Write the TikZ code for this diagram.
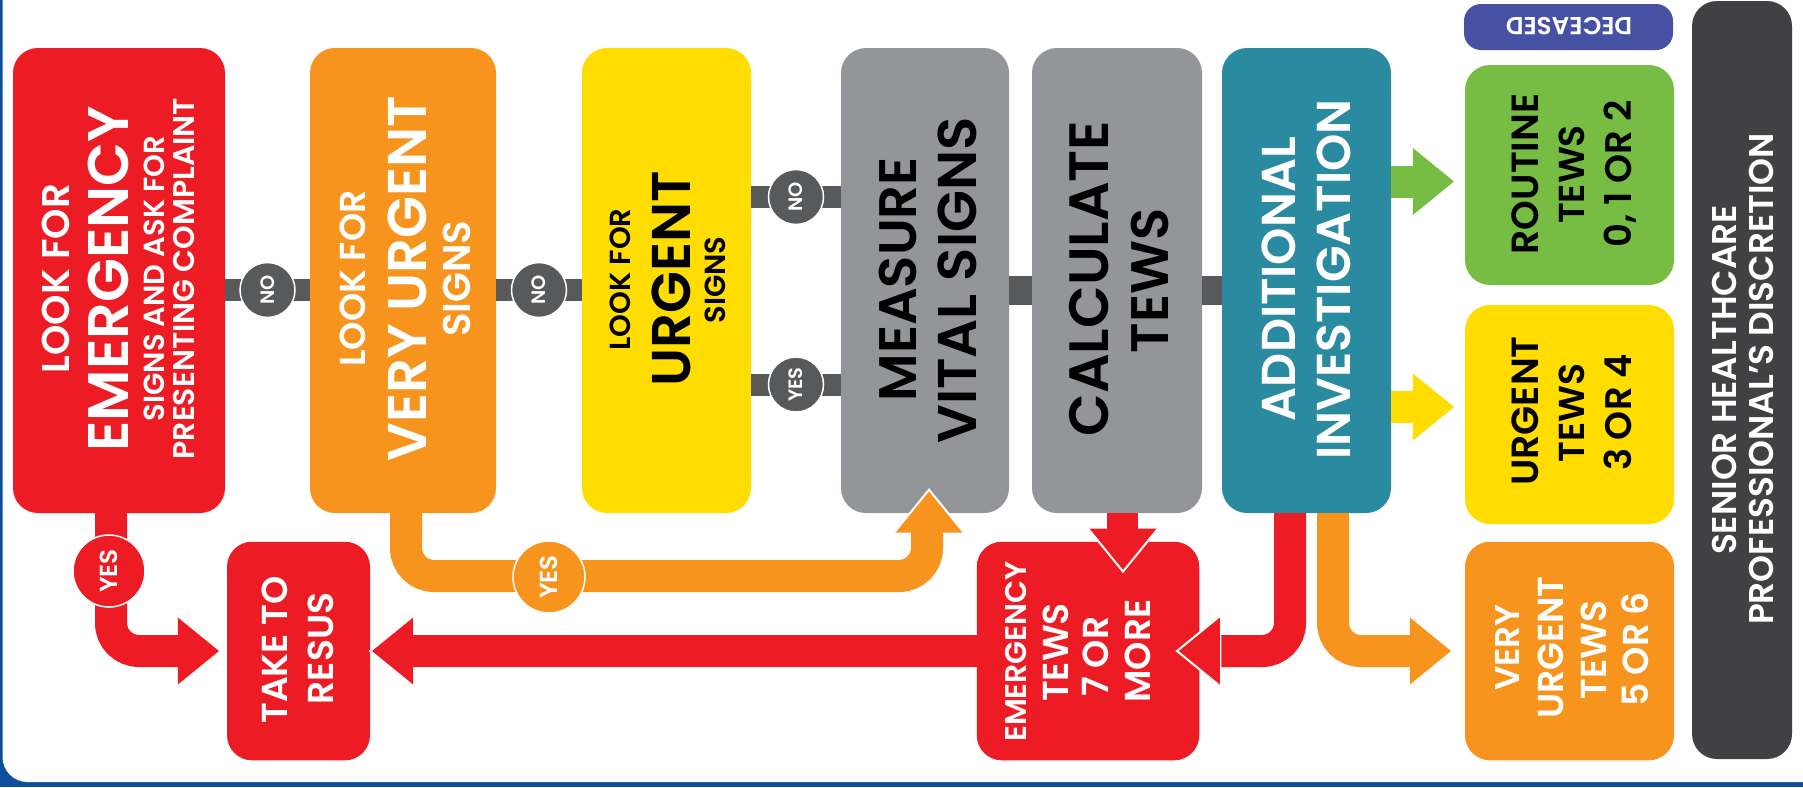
\documentclass[tikz,border=0pt]{standalone}
\usepackage{fontspec}
\setmainfont{Poppins}[BoldFont={Poppins SemiBold}]
\usetikzlibrary{calc}
\definecolor{cred}{HTML}{ED1C24}
\definecolor{corange}{HTML}{F7941D}
\definecolor{cyellow}{HTML}{FFDD00}
\definecolor{cboxgrey}{HTML}{939598}
\definecolor{cgrey}{HTML}{58595B}
\definecolor{cteal}{HTML}{2A8A9F}
\definecolor{cgreen}{HTML}{77BC43}
\definecolor{cdeceased}{HTML}{4751A3}
\definecolor{csenior}{HTML}{414042}
\definecolor{cframe}{HTML}{0D4F9C}
\newcommand\fz[1]{\fontsize{\fpeval{#1*0.88}pt}{\fpeval{#1*0.88}pt}\selectfont\bfseries}
\newcommand\ahead[3]{\path[shift={(#2)}, rotate=#3, fill=#1, draw=white, line width=2pt, line join=miter] (-43,35) -- (0,0) -- (-43,-35);}
\tikzset{
  box/.style={rectangle, rounded corners=25pt, inner sep=0pt, draw=none},
  lbl/.style={rotate=90, anchor=base, inner sep=0pt},
  circ/.style={circle, inner sep=0pt, minimum size=55pt, fill=cgrey, draw=white, line width=1.5pt, text=white, rotate=90, font=\fz{22}},
  bigcirc/.style={circ, minimum size=72pt, font=\fz{28}},
  bar/.style={draw=cgrey, line width=22pt},
  bar2/.style={draw=cgrey, line width=29pt},
  shaft/.style={line width=32pt, rounded corners=28pt},
}
\begin{document}
\begin{tikzpicture}[x=1pt,y=-1pt]
\useasboundingbox (0,0) rectangle (1803,787);
\clip (0,0) rectangle (1803,787);
\fill[cframe] (0,0) rectangle (1803,787);
\fill[white, rounded corners=25pt] (2.5,-60) rectangle (1880,782);

% boxes
\node[box, fill=cred, minimum width=212pt, minimum height=465pt] (emerg) at (119,280.5) {};
\node[box, fill=corange, minimum width=186pt, minimum height=465pt] (vurg) at (403,280.5) {};
\node[box, fill=cyellow, minimum width=169pt, minimum height=465pt] (urg) at (666.5,280.5) {};
\node[box, fill=cboxgrey, minimum width=168pt, minimum height=465pt] (meas) at (925,280.5) {};
\node[box, fill=cboxgrey, minimum width=170pt, minimum height=465pt] (calc) at (1117,280.5) {};
\node[box, fill=cteal, minimum width=169pt, minimum height=465pt] (addi) at (1306.5,280.5) {};
\node[box, fill=cdeceased, rounded corners=17pt, minimum width=209pt, minimum height=46pt] (dec) at (1568.5,27) {};
\node[box, fill=cgreen, minimum width=209pt, minimum height=220pt] (rout) at (1569.5,175) {};
\node[box, fill=cyellow, minimum width=209pt, minimum height=219pt] (urg2) at (1569.5,414.5) {};
\node[box, fill=corange, minimum width=209pt, minimum height=218.5pt] (vurg2) at (1569.5,651) {};
\node[box, fill=csenior, minimum width=100pt, minimum height=758pt] (senior) at (1742,380) {};
\node[box, fill=cred, minimum width=143pt, minimum height=218.5pt] (resus) at (298.5,651) {};
\node[box, fill=cred, minimum width=222.5pt, minimum height=218.5pt] (emtews) at (1088,651) {};

% grey connectors with circles
\coordinate (c1) at (267.5,290);
\coordinate (c2) at (539,290);
\coordinate (c3) at (796,197);
\coordinate (c4) at (796,384.5);
\draw[bar] (emerg.east |- c1) -- (vurg.west |- c1);
\draw[bar] (vurg.east |- c2) -- (urg.west |- c2);
\draw[bar] (urg.east |- c3) -- (meas.west |- c3);
\draw[bar] (urg.east |- c4) -- (meas.west |- c4);
\draw[bar2] (meas.east |- c1) -- (calc.west |- c1);
\draw[bar2] (calc.east |- c1) -- (addi.west |- c1);
\node[circ] (no1) at (c1) {NO};
\node[circ] (no2) at (c2) {NO};
\node[circ] (no3) at (c3) {NO};
\node[circ] (yes3) at (c4) {YES};

% red YES: emergency -> resus
\coordinate (rA) at ($(emerg.south)+(-8,0)$);
\coordinate (rBase) at ($(resus.west)+(-49,0)$);
\coordinate (rTip) at ($(resus.west)+(-6,0)$);
\draw[shaft, cred] (rA) |- (rBase);
\ahead{cred}{rTip}{0}
\node[bigcirc, fill=cred] (yes1) at (109,571) {YES};

% orange YES: very urgent -> measure
\coordinate (oA) at ($(vurg.south)+(3,0)$);
\coordinate (oC) at (927,576);
\coordinate (oBase) at ($(meas.south)+(2,19)$);
\coordinate (oTip) at ($(meas.south)+(4,-23.5)$);
\draw[shaft, corange] (oA) |- (oC) -- (oBase);
\ahead{corange}{oTip}{90}
\node[bigcirc, fill=corange] (yes2) at (549,577) {YES};

% calculate -> emergency tews
\coordinate (cA) at ($(calc.south)+(5,0)$);
\coordinate (cBase) at ($(calc.south)+(5,18)$);
\coordinate (cTip) at ($(emtews.north)+(35,30)$);
\draw[line width=31pt, cred] (cA) -- (cBase);
\ahead{cred}{cTip}{-90}

% emergency tews -> resus
\coordinate (lBase) at ($(resus.east)+(42,0)$);
\draw[line width=32pt, cred] (emtews.west) -- ($(lBase)+(-1,0)$);
\ahead{cred}{resus.east}{180}

% additional -> emergency tews
\coordinate (aA) at ($(addi.south)+(-16.5,0)$);
\coordinate (aBase) at ($(emtews.east)+(23,0)$);
\coordinate (aTip) at ($(emtews.east)+(-22.5,0)$);
\draw[shaft, cred] (aA) |- ($(aBase)+(-1,0)$);
\ahead{cred}{aTip}{180}

% additional -> very urgent
\coordinate (bA) at ($(addi.south)+(26.5,0)$);
\coordinate (bBase) at ($(vurg2.west)+(-54,0)$);
\coordinate (bTip) at ($(vurg2.west)+(-12,0)$);
\draw[shaft, corange] (bA) |- ($(bBase)+(1,0)$);
\ahead{corange}{bTip}{0}

% additional -> routine
\coordinate (gA) at ($(addi.east)+(0,-99)$);
\coordinate (gTip) at ($(rout.west)+(-9,6.5)$);
\draw[line width=32pt, cgreen] (gA) -- ($(gTip)+(-42,0)$);
\ahead{cgreen}{gTip}{0}

% additional -> urgent
\coordinate (yA) at ($(addi.east)+(0,126.5)$);
\coordinate (yTip) at ($(urg2.west)+(-9,-7.5)$);
\draw[line width=32pt, cyellow] (yA) -- ($(yTip)+(-42,0)$);
\ahead{cyellow}{yTip}{0}

% texts
\node[lbl, text=white, font=\fz{44}] (e1) at (69,278.6) {LOOK FOR};
\node[lbl, text=white, font=\fz{65}] (e2) at (128,278.6) {EMERGENCY};
\node[lbl, text=white, font=\fz{33}] (e3) at (164.6,278.6) {SIGNS AND ASK FOR};
\node[lbl, text=white, font=\fz{34}] (e4) at (194,278.6) {PRESENTING COMPLAINT};

\node[lbl, text=white, font=\fz{41}] (v1) at (365.5,278.6) {LOOK FOR};
\node[lbl, text=white, font=\fz{62}] (v2) at (426,278.6) {VERY URGENT};
\node[lbl, text=white, font=\fz{44}] (v3) at (470,278.6) {SIGNS};

\node[lbl, text=black, font=\fz{33}] (u1) at (630.5,279.5) {LOOK FOR};
\node[lbl, text=black, font=\fz{62}] (u2) at (690,278.5) {URGENT};
\node[lbl, text=black, font=\fz{33}] (u3) at (725,280) {SIGNS};

\node[lbl, text=black, font=\fz{60}] (m1) at (916.7,279.3) {MEASURE};
\node[lbl, text=black, font=\fz{62}] (m2) at (976.5,280.6) {VITAL SIGNS};

\node[lbl, text=black, font=\fz{63}] (ct1) at (1108,278.5) {CALCULATE};
\node[lbl, text=black, font=\fz{60}] (ct2) at (1168,281) {TEWS};

\node[lbl, text=white, font=\fz{54}] (a1) at (1295,279) {ADDITIONAL};
\node[lbl, text=white, font=\fz{54}] (a2) at (1350,279.5) {INVESTIGATION};

\node[lbl, text=black, font=\fz{43}] (r1) at (1538.5,174) {ROUTINE};
\node[lbl, text=black, font=\fz{41}] (r2) at (1584.6,174.5) {TEWS};
\node[lbl, text=black, font=\fz{42}] (r3) at (1631.5,174) {0, 1 OR 2};

\node[lbl, text=black, font=\fz{43}] (g1) at (1538.5,411) {URGENT};
\node[lbl, text=black, font=\fz{41}] (g2) at (1584.6,413) {TEWS};
\node[lbl, text=black, font=\fz{42}] (g3) at (1631.5,412.5) {3 OR 4};

\node[lbl, text=white, font=\fz{39}] (w1) at (1519,647.5) {VERY};
\node[lbl, text=white, font=\fz{41}] (w2) at (1563.5,647.5) {URGENT};
\node[lbl, text=white, font=\fz{41}] (w3) at (1606,650) {TEWS};
\node[lbl, text=white, font=\fz{41}] (w4) at (1648,649.5) {5 OR 6};

\node[anchor=base, inner sep=0pt, rotate=180, text=white, font=\fz{28}] (d1) at (1569,17.6) {DECEASED};

\node[lbl, text=white, font=\fz{39}] (s1) at (1736.5,380) {SENIOR HEALTHCARE};
\node[lbl, text=white, font=\fz{39}] (s2) at (1773,379) {PROFESSIONAL’S DISCRETION};

\node[lbl, text=white, font=\fz{41}] (t1) at (287,650) {TAKE TO};
\node[lbl, text=white, font=\fz{41}] (t2) at (333,648.5) {RESUS};

\node[lbl, text=white, font=\fz{34}] (x1) at (1026,651.5) {EMERGENCY};
\node[lbl, text=white, font=\fz{41}] (x2) at (1068,652.5) {TEWS};
\node[lbl, text=white, font=\fz{41}] (x3) at (1108,656.5) {7 OR};
\node[lbl, text=white, font=\fz{41}] (x4) at (1150,651) {MORE};
\end{tikzpicture}
\end{document}
